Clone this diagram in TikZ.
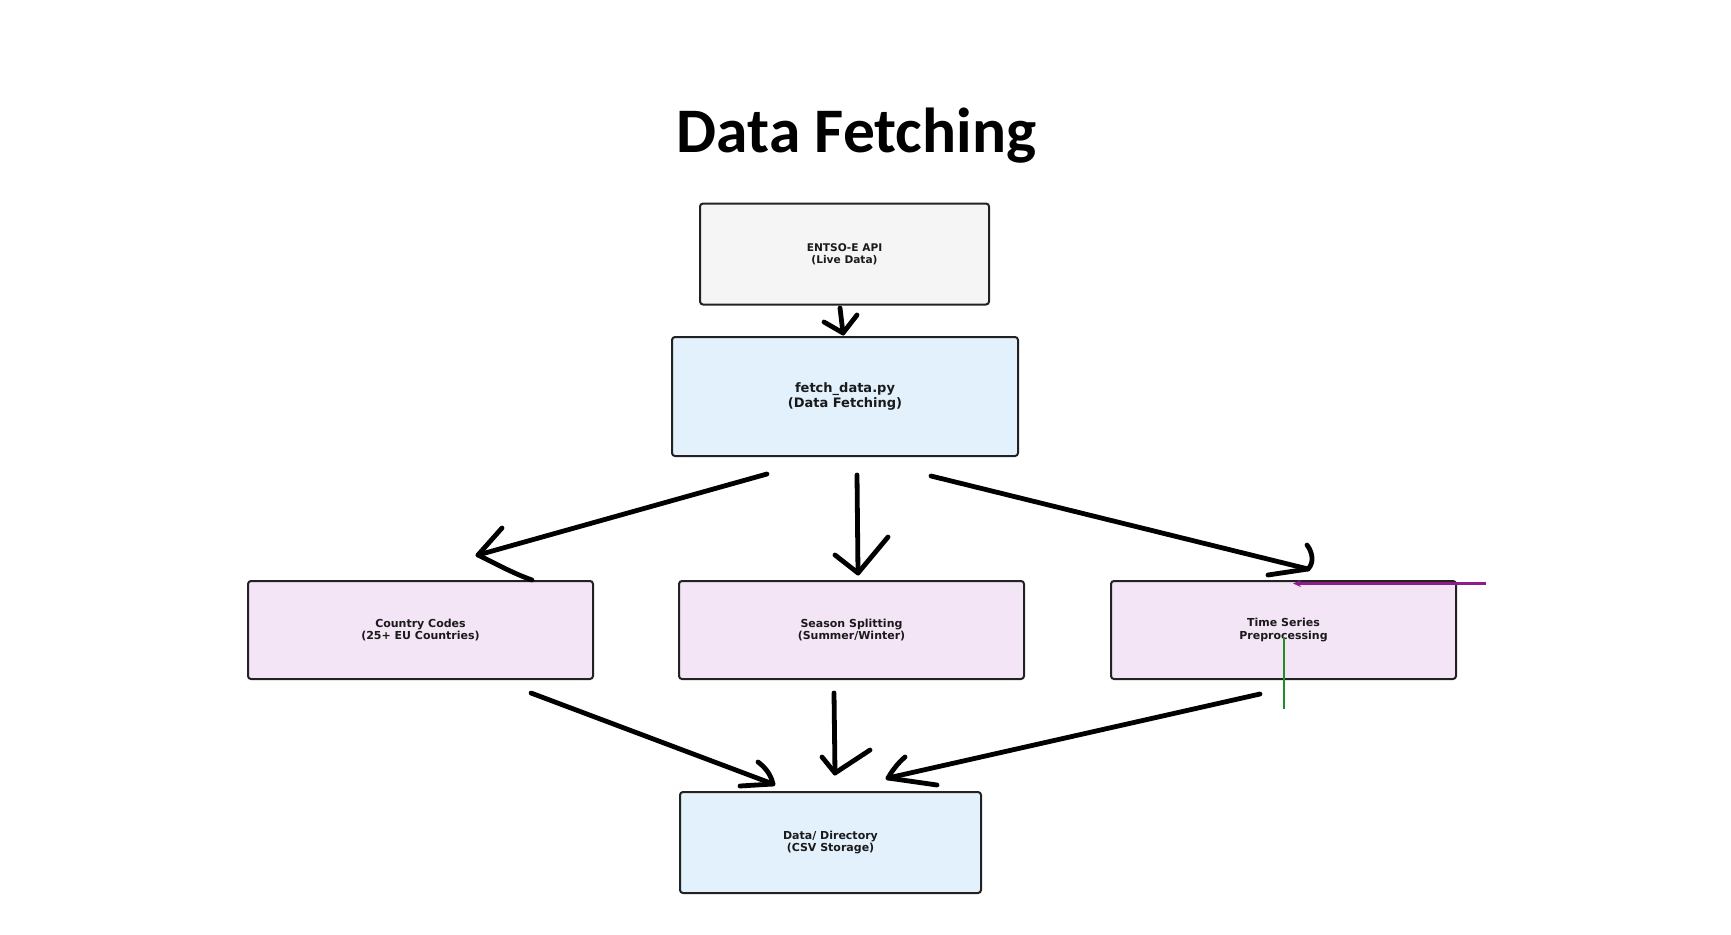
\documentclass[tikz,border=0pt]{standalone}
\usepackage{fontspec}
\setmainfont{DejaVu Sans}
\newfontfamily\titlefont{Carlito}
\usetikzlibrary{arrows.meta}
\definecolor{boxline}{HTML}{222222}
\definecolor{txt}{HTML}{1A1A1A}
\definecolor{grayfill}{HTML}{F5F5F5}
\definecolor{bluefill}{HTML}{E3F1FC}
\definecolor{purplefill}{HTML}{F3E5F5}
\definecolor{purpleline}{RGB}{140,30,140}
\definecolor{greenline}{RGB}{34,139,34}
\begin{document}
\begin{tikzpicture}[x=1pt,y=-1pt,
  box/.style={draw=boxline, line width=2pt, rounded corners=3pt, align=center,
    inner sep=0pt, text=txt, font=\bfseries\fontsize{11}{12.5}\selectfont},
  hand/.style={line width=4.8pt, line cap=round, line join=round, draw=black}]
\useasboundingbox (0,0) rectangle (1731,934);
\fill[white] (0,0) rectangle (1731,934);

\node[font=\titlefont\bfseries\fontsize{63.5}{63.5}\selectfont, anchor=base] (title) at (856.5,152) {Data Fetching};

\node[box, fill=grayfill, minimum width=289pt, minimum height=101pt, font=\bfseries\fontsize{10.6}{12}\selectfont] (api) at (844.5,254) {ENTSO-E API\\(Live Data)};
\node[box, fill=bluefill, minimum width=346pt, minimum height=119pt, font=\bfseries\fontsize{13}{14.5}\selectfont] (fetch) at (845,396.5) {fetch\_data.py\\(Data Fetching)};
\node[box, fill=purplefill, minimum width=345pt, minimum height=98pt] (cc) at (420.5,630) {Country Codes\\(25+ EU Countries)};
\node[box, fill=purplefill, minimum width=345pt, minimum height=98pt] (ss) at (851.5,630) {Season Splitting\\(Summer/Winter)};
\node[box, fill=purplefill, minimum width=345pt, minimum height=98pt] (ts) at (1283.5,630) {Time Series\\Preprocessing};
\node[box, fill=bluefill, minimum width=301pt, minimum height=101pt] (dd) at (830.5,842.5) {Data/ Directory\\(CSV Storage)};

% arrow end points
\coordinate (a0s) at (840,308);  \coordinate (a0t) at (843,333);
\coordinate (a1s) at (767,474);  \coordinate (a1t) at (478,555);
\coordinate (a2s) at (857,475);  \coordinate (a2t) at (858,573);
\coordinate (a3s) at (931,476);  \coordinate (a3t) at (1308,569);
\coordinate (a4s) at (531,693);  \coordinate (a4t) at (773,784);
\coordinate (a5s) at (834,693);  \coordinate (a5t) at (835,773);
\coordinate (a6s) at (1260,694); \coordinate (a6t) at (888,778);

% api -> fetch
\draw[hand] (a0s) -- (a0t);
\draw[hand] (824,322) -- (a0t) -- (857,315);
% fetch -> country codes
\draw[hand] (a1s) -- (a1t);
\draw[hand] (502,528) -- (a1t) .. controls (500,566) and (515,574) .. (532,580);
% fetch -> season
\draw[hand] (a2s) -- (a2t);
\draw[hand] (835,555) -- (a2t) -- (888,537);
% fetch -> time series
\draw[hand] (a3s) -- (a3t);
\draw[hand] (1307,545) .. controls (1313,553) and (1314,563) .. (a3t) -- (1268,575);
% country -> data
\draw[hand] (a4s) -- (a4t);
\draw[hand] (758,762) .. controls (766,768) and (771,775) .. (a4t) -- (740,786);
% season -> data
\draw[hand] (a5s) -- (a5t);
\draw[hand] (822,757) -- (a5t) -- (870,750);
% time -> data
\draw[hand] (a6s) -- (a6t);
\draw[hand] (905,757) .. controls (897,764) and (892,771) .. (a6t) -- (937,785);

% stray purple and green lines
\coordinate (pe) at (1486,583.5);
\coordinate (pt) at (1293,583.5);
\draw[draw=purpleline, line width=2.5pt, -{Stealth[length=8pt,width=7pt]}] (pe) -- (pt);
\coordinate (g1) at (1283.5,637);
\coordinate (g2) at (1283.5,709);
\draw[draw=greenline, line width=2pt] (g1) -- (g2);
\end{tikzpicture}
\end{document}
